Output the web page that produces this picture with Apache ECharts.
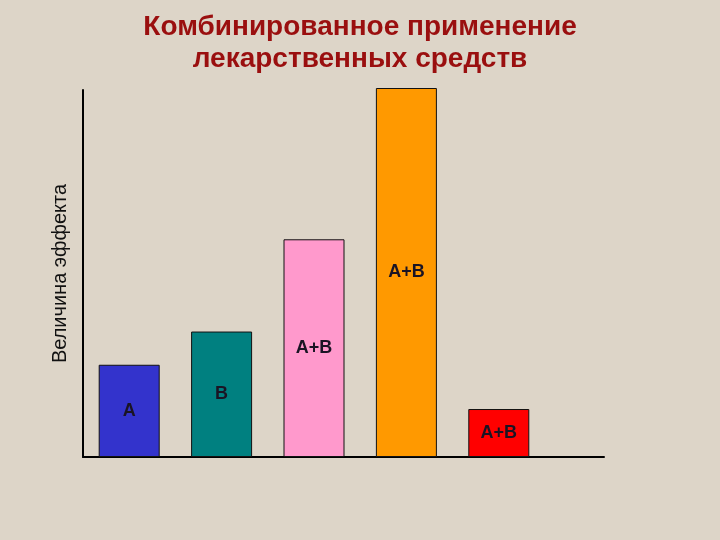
<!DOCTYPE html>
<html>
<head>
<meta charset="utf-8">
<script src="https://cdn.jsdelivr.net/npm/echarts@6/dist/echarts.min.js"></script>
<style>
  html, body { margin: 0; padding: 0; background: #ddd5c8; }
  #main { width: 720px; height: 540px; }
</style>
</head>
<body>
<div id="main"></div>
<script>
// данные
const categories = ['A', 'B', 'A+B', 'A+B', 'A+B'];
const effectValues = [25, 34, 59, 100, 13];
const barColors = ['#3333cc', '#008080', '#ff99cc', '#ff9900', '#ff0000'];

const myChart = echarts.init(document.getElementById('main'));

const option = {
    backgroundColor: '#ddd5c8',
    title: {
        text: 'Комбинированное применение\nлекарственных средств',
        left: 'center',
        top: 6,
        textStyle: {
            color: '#9a0f0f',
            fontFamily: 'Liberation Sans',
            fontWeight: 'bold',
            fontSize: 28,
            lineHeight: 32
        }
    },
    grid: [
        // столбцы
        { left: 83, right: 175, top: 88, bottom: 83 },
        // оси
        { left: 83, right: 116, top: 90, bottom: 83 }
    ],
    xAxis: [{
        type: 'category',
        gridIndex: 0,
        data: categories,
        axisLine: { show: false },
        axisTick: { show: false },
        axisLabel: { show: false }
    }, {
        type: 'category',
        gridIndex: 1,
        data: [''],
        axisLine: { show: true, lineStyle: { color: '#000', width: 2 } },
        axisTick: { show: false },
        axisLabel: { show: false }
    }],
    yAxis: [{
        type: 'value',
        gridIndex: 0,
        min: 0,
        max: 100,
        show: false
    }, {
        type: 'value',
        gridIndex: 1,
        min: 0,
        max: 100,
        name: 'Величина эффекта',
        nameLocation: 'middle',
        nameGap: 13,
        nameTextStyle: {
            color: '#111',
            fontFamily: 'Liberation Sans',
            fontSize: 20
        },
        axisLine: { show: true, lineStyle: { color: '#000', width: 2 } },
        axisTick: { show: false },
        axisLabel: { show: false },
        splitLine: { show: false }
    }],
    series: [{
        type: 'bar',
        xAxisIndex: 0,
        yAxisIndex: 0,
        barWidth: 61,
        data: effectValues.map((v, i) => ({
            value: v,
            itemStyle: { color: barColors[i] }
        })),
        itemStyle: {
            borderColor: '#111',
            borderWidth: 1
        },
        label: {
            show: true,
            position: 'inside',
            formatter: (p) => categories[p.dataIndex],
            color: '#1a1424',
            fontFamily: 'Liberation Sans',
            fontWeight: 'bold',
            fontSize: 18
        },
        silent: true
    }]
};

myChart.setOption(option);
</script>
</body>
</html>
